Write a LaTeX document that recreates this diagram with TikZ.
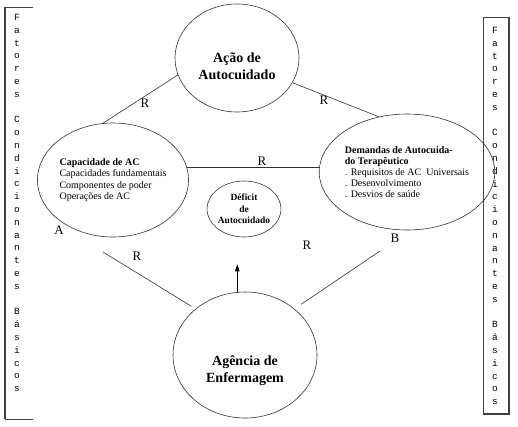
\documentclass[tikz,border=0pt]{standalone}
\usepackage{fontspec}
\setmainfont{Liberation Serif}
\newfontfamily\sidefont{Liberation Mono}
\usetikzlibrary{arrows.meta,shapes.geometric}

\begin{document}
\begin{tikzpicture}[
  x=1pt,
  y=-1pt,
  oval/.style={
    ellipse,
    draw=black!80,
    line width=0.6pt,
    inner sep=0pt
  },
  bigtxt/.style={
    align=center,
    font=\bfseries\fontsize{14}{17}\selectfont,
    inner sep=0pt
  },
  listtxt/.style={
    align=left,
    font=\fontsize{10}{11.2}\selectfont
  },
  sidetxt/.style={
    align=center,
    font=\sidefont\fontsize{9.5}{12.8}\selectfont,
    inner sep=0pt
  },
  rlbl/.style={
    font=\fontsize{13}{13}\selectfont,
    inner sep=0pt
  },
  frame/.style={draw=black!75, line width=0.8pt},
  link/.style={draw=black!80, line width=0.6pt},
  arrow/.style={-{Triangle[length=7pt,width=4.5pt]}, draw=black, line width=0.8pt}
]
\useasboundingbox (0,0) rectangle (518,426);

% side bars
\draw[frame] (33,7) -- (5,7) -- (5,419) -- (33,419);
\draw[frame, line width=1.4pt] (5,7) -- (5,419);
\draw[frame] (483,17) rectangle (509,414);
\draw[frame, line width=1.4pt] (509,17) -- (509,414) -- (483,414);

\node[sidetxt] (leftbar) at (17,203)
  {F\\a\\t\\o\\r\\e\\s\\ \\C\\o\\n\\d\\i\\c\\i\\o\\n\\a\\n\\t\\e\\s\\ \\B\\á\\s\\i\\c\\o\\s};
\node[sidetxt] (rightbar) at (495,216)
  {F\\a\\t\\o\\r\\e\\s\\ \\C\\o\\n\\d\\i\\c\\i\\o\\n\\a\\n\\t\\e\\s\\ \\B\\á\\s\\i\\c\\o\\s};

% the five ovals
\node[oval, minimum width=124pt, minimum height=108pt] (acao) at (237,58) {};
\node[bigtxt] (acaotxt) at (237,66) {Ação de\\Autocuidado};

\node[oval, listtxt, minimum width=142pt, minimum height=114pt] (capacidade) at (113,180)
  {\textbf{Capacidade de AC}\\Capacidades fundamentais\\Componentes de poder\\Operações de AC};

\node[oval, listtxt, minimum width=144pt, minimum height=116pt] (demandas) at (407,172)
  {\textbf{Demandas de Autocuida-}\\\textbf{do Terapêutico}\\. Requisitos de AC\ \ Universais\\. Desenvolvimento\\. Desvios de saúde};

\node[oval, align=center, font=\bfseries\fontsize{9.5}{11.5}\selectfont,
  minimum width=66pt, minimum height=56pt] (deficit) at (244,209)
  {Déficit\\de\\Autocuidado};

\node[oval, minimum width=144pt, minimum height=126pt] (agencia) at (245,355) {};
\node[bigtxt] (agenciatxt) at (245,371) {Agência de\\Enfermagem};

% loose ends
\coordinate (capfoot) at (103,252);
\coordinate (demfoot) at (380,251);

\draw[link] (capacidade.100) -- (acao.196);
\draw[link] (acao.336) -- (demandas.117);
\draw[link] (capacidade.10) -- (capacidade.10 -| demandas.west);
\draw[link, shorten >=5pt] (capfoot) -- (agencia.137);
\draw[link, shorten >=8pt] (demfoot) -- (agencia.43);
\draw[arrow, shorten >=27pt] (agencia.97) -- (agencia.97 |- deficit.south);

\node[rlbl] (r1) at (145,103) {R};
\node[rlbl] (r2) at (324,100) {R};
\node[rlbl] (r3) at (262,161) {R};
\node[rlbl] (r4) at (137,256) {R};
\node[rlbl] (r5) at (307,245) {R};
\node[rlbl] (ptA) at (59,230) {A};
\node[rlbl] (ptB) at (395,238) {B};
\end{tikzpicture}
\end{document}
